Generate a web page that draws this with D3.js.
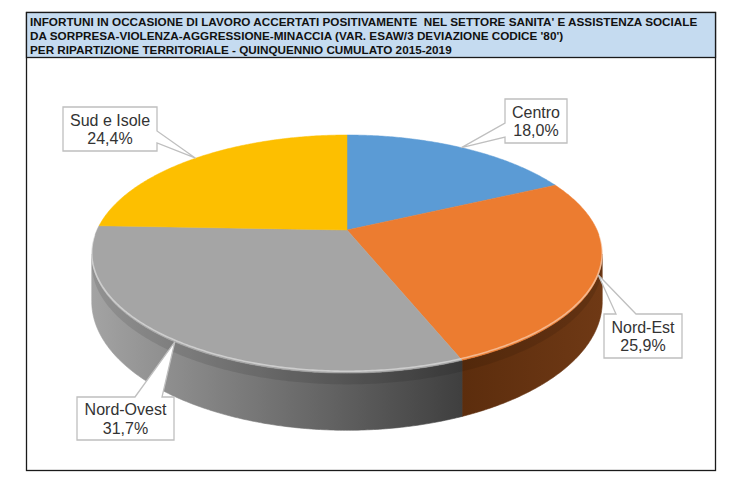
<!DOCTYPE html>
<html>
<head>
<meta charset="utf-8">
<script src="https://cdn.jsdelivr.net/npm/d3@7/dist/d3.min.js"></script>
<style>
  html, body { margin: 0; padding: 0; background: #fff; }
  svg { display: block; }
</style>
</head>
<body>
<div id="chart"></div>
<script>
// dati
const categories = ["Centro", "Nord-Est", "Nord-Ovest", "Sud e Isole"];
const shares = [18.0, 25.9, 31.7, 24.4];
const titleLines = [
  "INFORTUNI IN OCCASIONE DI LAVORO ACCERTATI POSITIVAMENTE  NEL SETTORE SANITA' E ASSISTENZA SOCIALE",
  "DA SORPRESA-VIOLENZA-AGGRESSIONE-MINACCIA (VAR. ESAW/3 DEVIAZIONE CODICE '80')",
  "PER RIPARTIZIONE TERRITORIALE - QUINQUENNIO CUMULATO 2015-2019"
];

// colori (faccia superiore, lato chiaro, lato scuro)
const topColors = ["#5b9bd5", "#ec7c30", "#a5a5a5", "#fdbf00"];
const sideColors = [
  ["#2f5f8c", "#244a6e"],
  ["#5c2d0d", "#6f3915"],
  ["#a3a3a3", "#3f3f3f"],
  ["#a07800", "#7a5c00"]
];

// posizione etichette (box + punti di attacco del puntatore)
const labelBoxes = [
  { x: 505, y: 99, w: 62, h: 44, edge: "left", b1: 24, b2: 38 },
  { x: 604, y: 314, w: 78, h: 44, edge: "top", b1: 12, b2: 32 },
  { x: 77, y: 397, w: 97, h: 43, edge: "top", b1: 58, b2: 85 },
  { x: 63, y: 107, w: 94, h: 44, edge: "right", b1: 24, b2: 36 }
];

const width = 737;
const height = 491;

// geometria torta 3D in prospettiva
const cx = 347, cy = 230;
const A = 250, B = 114.2, k = 0.202, H = 45.6;

function proj(theta, depth) {
  const u = Math.sin(theta), v = -Math.cos(theta);
  const s = 1 / (1 - k * v);
  return [cx + A * u * s, cy + (B * v + depth) * s];
}

const thetaR = Math.acos(-k);
const thetaL = 2 * Math.PI - thetaR;

const svg = d3
  .select("#chart")
  .append("svg")
  .attr("width", width)
  .attr("height", height);

const defs = svg.append("defs");

// bordo grafico e box titolo
svg
  .append("rect")
  .attr("x", 26.5)
  .attr("y", 12.5)
  .attr("width", 689)
  .attr("height", 458)
  .attr("fill", "#fff")
  .attr("stroke", "#1a1a1a")
  .attr("stroke-width", 1.3);

svg
  .append("rect")
  .attr("x", 26.5)
  .attr("y", 12.5)
  .attr("width", 689)
  .attr("height", 45)
  .attr("fill", "#c5dbf0")
  .attr("stroke", "#1a1a1a")
  .attr("stroke-width", 1.3);

const titleGroup = svg.append("g");
const titleText = titleGroup
  .selectAll("text")
  .data(titleLines)
  .enter()
  .append("text")
  .attr("x", 0)
  .attr("y", (d, i) => 25.7 + i * 14.3)
  .attr("font-family", "'Liberation Sans', Arial, sans-serif")
  .attr("font-weight", "bold")
  .attr("font-size", "11.8px")
  .attr("fill", "#111")
  .attr("xml:space", "preserve")
  .style("white-space", "pre")
  .text((d) => d);

// stringe il titolo in orizzontale per farlo stare nella larghezza della prima riga
const firstWidth = titleText.node().getComputedTextLength();
titleGroup.attr("transform", `translate(30,0) scale(${668 / firstWidth},1)`);

const pie = d3.pie().sort(null).value((d) => d);
const arcs = pie(shares);

const line = d3.line();

function arcPoints(a0, a1, depth) {
  const n = Math.max(2, Math.ceil((a1 - a0) / 0.01));
  return d3.range(n + 1).map((i) => proj(a0 + (a1 - a0) * i / n, depth));
}

// lati visibili
const sides = svg.append("g").attr("class", "sides");
arcs.forEach((d, i) => {
  const a0 = Math.max(d.startAngle, thetaR);
  const a1 = Math.min(d.endAngle, thetaL);
  if (a1 <= a0) return;
  const topEdge = arcPoints(a0, a1, 0);
  const bottomEdge = arcPoints(a0, a1, H).reverse();
  const p0 = topEdge[0][0], p1 = topEdge[topEdge.length - 1][0];
  const gx0 = Math.min(p0, p1), gx1 = Math.max(p0, p1);

  const grad = defs
    .append("linearGradient")
    .attr("id", "side" + i)
    .attr("gradientUnits", "userSpaceOnUse")
    .attr("x1", gx0)
    .attr("x2", gx1)
    .attr("y1", 0)
    .attr("y2", 0);
  grad.append("stop").attr("offset", 0).attr("stop-color", sideColors[i][0]);
  grad.append("stop").attr("offset", 1).attr("stop-color", sideColors[i][1]);

  sides
    .append("path")
    .attr("d", line(topEdge.concat(bottomEdge)) + "Z")
    .attr("fill", `url(#side${i})`)
    .attr("stroke", `url(#side${i})`)
    .attr("stroke-width", 0.6);
});

// leggera ombra sotto il bordo superiore del lato
sides
  .append("path")
  .attr("d", line(arcPoints(thetaR, thetaL, 0).concat(arcPoints(thetaR, thetaL, 9).reverse())) + "Z")
  .attr("fill", "#000")
  .attr("opacity", 0.1);

// facce superiori
const tops = svg.append("g").attr("class", "tops");
arcs.forEach((d, i) => {
  const pts = [[cx, cy]].concat(arcPoints(d.startAngle, d.endAngle, 0));
  tops
    .append("path")
    .attr("d", line(pts) + "Z")
    .attr("fill", topColors[i])
    .attr("stroke", topColors[i])
    .attr("stroke-width", 0.5)
    .attr("stroke-linejoin", "round");
});

// riflesso sul bordo frontale
tops
  .append("path")
  .attr("d", line(arcPoints(thetaR - 0.15, thetaL + 0.15, -1.5)))
  .attr("fill", "none")
  .attr("stroke", "#fff")
  .attr("stroke-opacity", 0.45)
  .attr("stroke-width", 1.6);

// etichette con puntatore
const labels = svg.append("g").attr("class", "labels");
const fmt = (v) => v.toFixed(1).replace(".", ",") + "%";

arcs.forEach((d, i) => {
  const box = labelBoxes[i];
  const mid = (d.startAngle + d.endAngle) / 2;
  const apex = proj(mid, 0);
  const x0 = box.x, y0 = box.y, x1 = box.x + box.w, y1 = box.y + box.h;
  let pts;
  if (box.edge === "left") {
    pts = [[x0, y0], [x1, y0], [x1, y1], [x0, y1], [x0, y0 + box.b2], apex, [x0, y0 + box.b1]];
  } else if (box.edge === "right") {
    pts = [[x0, y0], [x1, y0], [x1, y0 + box.b1], apex, [x1, y0 + box.b2], [x1, y1], [x0, y1]];
  } else {
    pts = [[x0, y0], [x0 + box.b1, y0], apex, [x0 + box.b2, y0], [x1, y0], [x1, y1], [x0, y1]];
  }
  labels
    .append("path")
    .attr("d", line(pts) + "Z")
    .attr("fill", "#fff")
    .attr("stroke", "#bfbfbf")
    .attr("stroke-width", 1.3)
    .attr("stroke-linejoin", "miter");

  const tx = box.x + box.w / 2;
  const ty = box.y + box.h / 2;
  const t = labels
    .append("text")
    .attr("x", tx)
    .attr("text-anchor", "middle")
    .attr("font-family", "'Liberation Sans', Arial, sans-serif")
    .attr("font-size", "16px")
    .attr("fill", "#333");
  t.append("tspan").attr("x", tx).attr("y", ty - 3.5).text(categories[i]);
  t.append("tspan").attr("x", tx).attr("y", ty + 15).text(fmt(shares[i]));
});
</script>
</body>
</html>
